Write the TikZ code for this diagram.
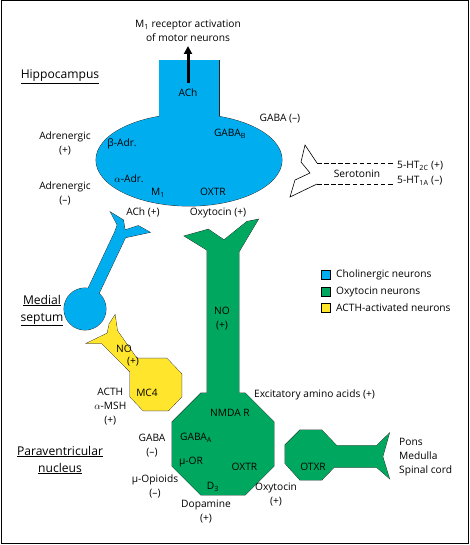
\documentclass[tikz,border=0pt]{standalone}
\usepackage{fontspec}
\setmainfont{Open Sans}
\usetikzlibrary{arrows.meta}
\definecolor{cblue}{RGB}{0,174,239}
\definecolor{cgreen}{RGB}{0,168,95}
\definecolor{cyellow}{RGB}{255,230,45}
\newcommand\blueshapes[1]{%
  \path[#1] (159,60) rectangle (219,125);
  \path[#1] (189,160) ellipse [x radius=93pt, y radius=46pt];
  \path[#1] (85,309) circle [radius=21pt];
  \path[#1] (110.7,212.3) -- (123.3,220) -- (125,230) -- (138.3,225.7) -- (150,232.3) -- (125.4,237.6) -- (90.4,311.6) -- (79.6,306.4) -- (114.6,232.4) -- (117.3,225) -- cycle;
}
\newcommand\greenshapes[1]{%
  \path[#1] (184.3,236) -- (208.3,229.3) -- (224,240) -- (247,221.5) -- (258.3,219.3) -- (239,251.7) -- (239,396) -- (207,396) -- (207,250) -- cycle;
  \path[#1] (201,393) -- (245,393) -- (274,422) -- (274,466) -- (245,495) -- (201,495) -- (172,466) -- (172,422) -- cycle;
  \path[#1] (300,430) -- (321.7,430) -- (336.7,445.7) -- (376.7,445.7) -- (389.3,433.3) -- (382.7,456.7) -- (389.3,478.3) -- (376.7,467.3) -- (334,467.3) -- (321.7,480) -- (300,480) -- (285,463.3) -- (285,445) -- cycle;
}
\newcommand\yellowshapes[1]{%
  \path[#1] (115,315) -- (117.3,330.7) -- (136.7,358.3) -- (166.7,358.3) -- (181.7,374) -- (181.7,396.7) -- (168.3,410.7) -- (143.3,410.7) -- (130,396.7) -- (130,371.7) -- (101.7,343.3) -- (86.7,343.3) -- (107.3,333.3) -- (109.3,324) -- cycle;
}
\tikzset{
  lbl/.style={inner sep=0pt, align=center, font=\fontsize{10.2}{14}\selectfont},
  ttl/.style={inner sep=0pt, align=center, font=\fontsize{12.1}{17}\selectfont},
  outl/.style={draw=black!85, line width=0.8pt},
  legbox/.style={draw=black, line width=0.5pt},
}
\begin{document}
\begin{tikzpicture}[x=1pt,y=-1pt]
\useasboundingbox (0,0) rectangle (470,545);
\draw[line width=1pt] (1,1) rectangle (468.5,543.5);
% shapes
\blueshapes{outl}
\greenshapes{outl}
\yellowshapes{outl}
\blueshapes{fill=cblue}
\greenshapes{fill=cgreen}
\yellowshapes{fill=cyellow}
% serotonin terminal
\draw[line width=0.6pt, line join=miter] (317,163) -- (305,145) -- (301,162) -- (310,173) -- (295,180) -- (290,197) -- (317,184);
\draw[line width=0.7pt, dash pattern=on 4.5pt off 2.6pt] (317,163) -- (393,163);
\draw[line width=0.7pt, dash pattern=on 4.5pt off 2.6pt] (317,184) -- (393,184);
% arrow
\coordinate (arrS) at (188,83);
\coordinate (arrE) at (188,46);
\draw[line width=3pt, -{Triangle[width=8pt,length=8pt]}] (arrS) -- (arrE);
% labels
\node[lbl] (m1top) at (188,31) {M\textsubscript{1} receptor activation\\of motor neurons};
\node[ttl] (hippo) at (60,77) {\underline{Hippocampus}};
\node[lbl] (ach) at (188,93) {ACh};
\node[lbl] (adrp) at (65,143) {Adrenergic\\(+)};
\node[lbl] (adrm) at (65,193) {Adrenergic\\(–)};
\node[lbl] (badr) at (122,144) {β-Adr.};
\node[lbl] (aadr) at (129,179) {$\alpha$-Adr.};
\node[lbl] (m1) at (158,193) {M\textsubscript{1}};
\node[lbl] (oxtr1) at (213,192) {OXTR};
\node[lbl] (gabab) at (230,134) {GABA\textsubscript{B}};
\node[lbl] (gabam) at (280,119) {GABA (–)};
\node[lbl] (achp) at (143,212) {ACh (+)};
\node[lbl] (oxyp) at (218,213) {Oxytocin (+)};
\node[lbl] (sero) at (357,174) {Serotonin};
\node[lbl, anchor=west] (ht2c) at (397,166) {5-HT\textsubscript{2C} (+)};
\node[lbl, anchor=west] (ht1a) at (397,181) {5-HT\textsubscript{1A} (–)};
\node[ttl] (septum) at (42,310.5) {\underline{Medial}\\\underline{septum}};
\node[lbl] (noy) at (124,349) {NO};
\node[lbl] (noyp) at (133,362) {(+)};
\node[lbl] (mc4) at (147,393) {MC4};
\node[lbl] (acth) at (110.3,407) {ACTH\\$\alpha$-MSH\\(+)};
\node[lbl] (nog) at (222,319) {NO\\(+)};
\node[lbl] (eaa) at (314.5,395) {Excitatory amino acids (+)};
\node[lbl] (nmda) at (230,413) {NMDA R};
\node[lbl] (gabaa) at (196,438) {GABA\textsubscript{A}};
\node[lbl] (muor) at (191,462) {µ-OR};
\node[lbl] (d3) at (213,487) {D\textsubscript{3}};
\node[lbl] (oxtr2) at (244.5,467) {OXTR};
\node[lbl] (oxy2) at (276,495) {Oxytocin\\(+)};
\node[lbl] (dopa) at (206,512) {Dopamine\\(+)};
\node[lbl] (muop) at (155,486) {µ-Opioids\\(–)};
\node[lbl] (gaba2) at (152,446) {GABA\\(–)};
\node[ttl] (pvn) at (60,460) {\underline{Paraventricular}\\\underline{nucleus}};
\node[lbl] (oxtr3) at (313,467) {OTXR};
\node[lbl, anchor=west, align=left] (pons) at (399,457) {Pons\\Medulla\\Spinal cord};
% legend
\draw[legbox, fill=cblue] (321.5,270.7) rectangle (330,279.3);
\draw[legbox, fill=cgreen] (321.5,287.3) rectangle (330,296);
\draw[legbox, fill=cyellow] (321.5,303.3) rectangle (330,312);
\node[lbl, anchor=west] (lg1) at (336,275) {Cholinergic neurons};
\node[lbl, anchor=west] (lg2) at (336,291.5) {Oxytocin neurons};
\node[lbl, anchor=west] (lg3) at (336,307.5) {ACTH-activated neurons};
\end{tikzpicture}
\end{document}
